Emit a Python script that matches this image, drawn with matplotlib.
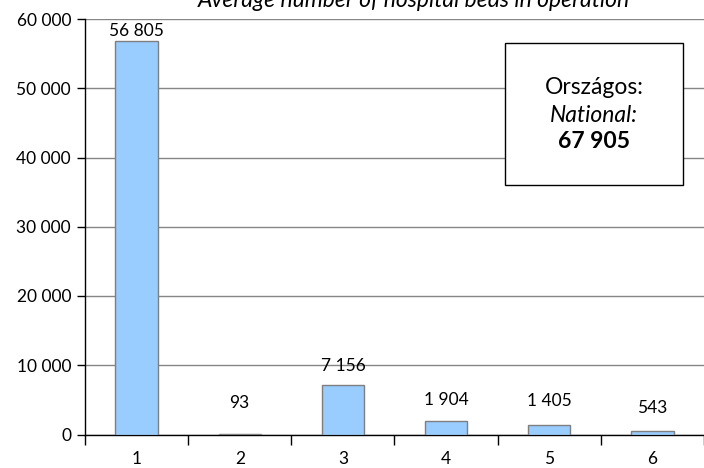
import matplotlib
matplotlib.use("Agg")
import matplotlib.pyplot as plt
from matplotlib.ticker import FuncFormatter

categories = ["1", "2", "3", "4", "5", "6"]
values = [56805, 93, 7156, 1904, 1405, 543]
value_labels = ["56 805", "93", "7 156", "1 904", "1 405", "543"]
yticks = [0, 10000, 20000, 30000, 40000, 50000, 60000]
title = "Average number of hospital beds in operation"
box_lines = ["Országos:", "National:", "67 905"]

# label offsets (points above bar top, to label centre)
label_offsets = [7.5, 22, 14, 15, 17, 16.5]

plt.rcParams['font.family'] = ['Lato', 'DejaVu Sans']
FS = 12.5
FS_BIG = 16.5

fig = plt.figure(figsize=(7.04, 4.68), dpi=100)
L, B = 85 / 704, 1 - 434.5 / 468
ax = fig.add_axes([L, B, 1 - L, (434.5 - 19) / 468])

x = list(range(len(categories)))
ax.bar(x, values, width=0.41, color="#99CCFF", edgecolor="#7F7F7F", linewidth=1.0, zorder=3)
ax.set_xlim(-0.5, -0.5 + 619 / 105.1)
ax.set_ylim(0, 60000)
ax.set_yticks(yticks)
ax.yaxis.set_major_formatter(FuncFormatter(lambda v, p: f"{int(v):,}".replace(",", " ")))
ax.grid(axis="y", color="#868686", linewidth=1.0, zorder=0)
ax.set_axisbelow(True)

ax.set_xticks(x)
ax.set_xticklabels(categories, fontsize=FS)
ax.set_xticks([i + 0.5 for i in range(-1, len(categories))], minor=True)
ax.tick_params(axis="x", which="major", length=0, pad=12)
ax.tick_params(axis="x", which="minor", length=7, width=1, direction="out")
ax.tick_params(axis="y", length=6, width=1, direction="out", labelsize=FS, pad=4)

for s in ["top", "right"]:
    ax.spines[s].set_visible(False)
ax.spines["left"].set_linewidth(1.0)
ax.spines["bottom"].set_linewidth(1.0)

for xi, v, lab, off in zip(x, values, value_labels, label_offsets):
    ax.annotate(lab, (xi, v), xytext=(0, off), textcoords="offset points",
                ha="center", va="center", fontsize=FS)

fig.text(414 / 704, 1 - 7 / 468, title, ha="center", va="baseline",
         fontsize=FS_BIG, style="italic")

# National box
bx0, by0, bx1, by1 = 505, 43, 683, 185
rect = plt.Rectangle((bx0 / 704, 1 - by1 / 468), (bx1 - bx0) / 704, (by1 - by0) / 468,
                     transform=fig.transFigure, facecolor="white", edgecolor="black",
                     linewidth=1.0, zorder=5)
fig.add_artist(rect)
cx = (bx0 + bx1) / 2 / 704
fig.text(cx, 1 - 88 / 468, box_lines[0], ha="center", va="center", fontsize=FS_BIG, zorder=6)
fig.text(cx, 1 - 116 / 468, box_lines[1], ha="center", va="center", fontsize=FS_BIG, style="italic", zorder=6)
fig.text(cx, 1 - 141 / 468, box_lines[2], ha="center", va="center", fontsize=FS_BIG, weight="bold", zorder=6)

fig.savefig("out.png", dpi=100)
